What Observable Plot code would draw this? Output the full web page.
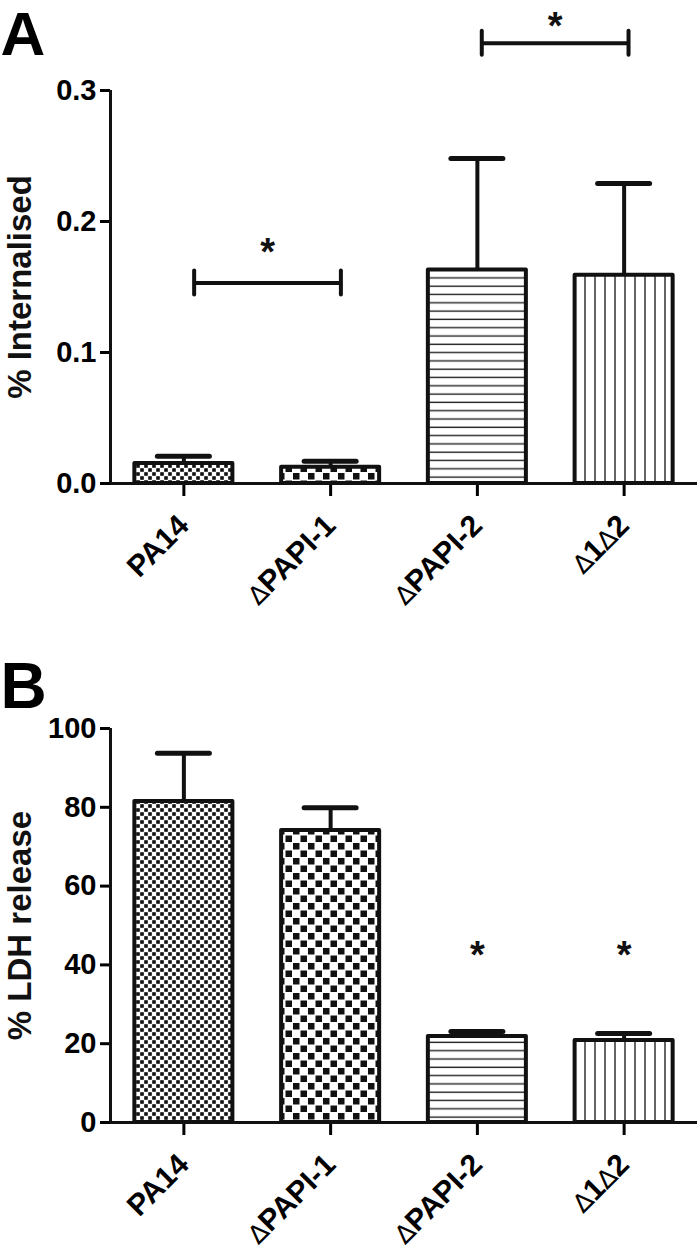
<!DOCTYPE html>
<html>
<head>
<meta charset="utf-8">
<script src="https://cdn.jsdelivr.net/npm/d3@7"></script>
<script src="https://cdn.jsdelivr.net/npm/@observablehq/plot@0.6"></script>
<style>
  html, body { margin: 0; padding: 0; background: white; }
  #chart { width: 700px; position: relative; }
  #chart svg { display: block; }
</style>
</head>
<body>
<div id="chart"></div>
<script>
// ---- data ----
const categories = ["PA14", "ΔPAPI-1", "ΔPAPI-2", "Δ1Δ2"];
const patterns = ["fine", "coarse", "hlines", "vlines"];

// Panel A: % internalised (mean, SEM)
const internalised = [0.0153, 0.0125, 0.163, 0.159];
const internalisedSem = [0.0055, 0.0045, 0.085, 0.070];
const bracketsA = [
  {from: 0.07, to: 1.07, y: 0.153, starY: 0.182},
  {from: 2.03, to: 3.03, y: 0.336, starY: 0.355}
];
const yTicksA = [0, 0.1, 0.2, 0.3];

// Panel B: % LDH release (mean, SEM)
const ldh = [81.5, 74.1, 21.8, 20.8];
const ldhSem = [12.2, 5.8, 1.3, 1.8];
const starsB = [{x: 2, y: 44.4}, {x: 3, y: 44.4}];
const yTicksB = [0, 20, 40, 60, 80, 100];

const FONT = "'Liberation Sans', Arial, Helvetica, sans-serif";
const HALF = 0.334;     // half bar width (in category units)
const CAP = 26;         // half cap width (px)

function defs(prefix) {
  return `<defs>
  <pattern id="${prefix}-fine" patternUnits="userSpaceOnUse" width="8" height="8">
    <rect width="8" height="8" fill="white"/>
    <rect x="0.2" y="0.2" width="3.6" height="3.6" fill="#111"/>
    <rect x="4.2" y="4.2" width="3.6" height="3.6" fill="#111"/>
  </pattern>
  <pattern id="${prefix}-coarse" patternUnits="userSpaceOnUse" width="15" height="15">
    <rect width="15" height="15" fill="white"/>
    <rect x="0.5" y="0.5" width="6.5" height="6.5" fill="#111"/>
    <rect x="8" y="8" width="6.5" height="6.5" fill="#111"/>
  </pattern>
  <pattern id="${prefix}-hlines" patternUnits="userSpaceOnUse" width="10" height="8.3">
    <rect width="10" height="8.3" fill="white"/>
    <line x1="0" x2="10" y1="4" y2="4" stroke="#222" stroke-width="1.4"/>
  </pattern>
  <pattern id="${prefix}-vlines" patternUnits="userSpaceOnUse" width="10" height="10">
    <rect width="10" height="10" fill="white"/>
    <line x1="5" x2="5" y1="0" y2="10" stroke="#222" stroke-width="1.4"/>
  </pattern>
  </defs>`;
}

function panel({prefix, values, sems, yDomain, yTicks, yFormat, yLabel, letter, height, marginTop, marginBottom, labelDx, letterDy, letterSize, extra}) {
  const rows = categories.map((c, i) => ({i, c, value: values[i], sem: sems[i], pat: patterns[i]}));
  const svg = Plot.plot({
    width: 700,
    height,
    marginTop,
    marginBottom,
    marginLeft: 110,
    marginRight: 3,
    style: {fontFamily: FONT, background: "white", color: "black", overflow: "visible"},
    x: {type: "linear", domain: [-0.5, 3.5], axis: null},
    y: {domain: yDomain, axis: null},
    color: {type: "identity"},
    marks: [
      Plot.axisY({ticks: yTicks, tickFormat: yFormat, tickSize: 10, tickPadding: 4,
        fontSize: 29, fontWeight: "bold", strokeWidth: 3, label: null}),
      Plot.axisX({ticks: [0, 1, 2, 3], tickFormat: i => categories[i], tickSize: 13,
        tickRotate: -45, tickPadding: 24, fontSize: 30, fontWeight: "bold", strokeWidth: 3, label: null}),
      Plot.ruleY(rows, {y: d => d.value + d.sem, x1: "i", x2: "i", insetLeft: -CAP, insetRight: -CAP,
        stroke: "#111", strokeWidth: 5, strokeLinecap: "round"}),
      Plot.ruleX(rows, {x: "i", y1: "value", y2: d => d.value + d.sem, stroke: "#111", strokeWidth: 4}),
      Plot.rectY(rows, {x1: d => d.i - HALF, x2: d => d.i + HALF, y1: 0, y2: "value",
        fill: d => `url(#${prefix}-${d.pat})`, stroke: "#111", strokeWidth: 4, strokeLinejoin: "round"}),
      Plot.ruleX([-0.5], {stroke: "#111", strokeWidth: 3}),
      Plot.ruleY([yDomain[0]], {stroke: "#111", strokeWidth: 3}),
      Plot.text([yLabel], {frameAnchor: "left", rotate: -90, dx: labelDx, textAnchor: "middle",
        lineAnchor: "top", fontSize: 33, fontWeight: "bold", fill: "#111"}),
      Plot.text([letter], {frameAnchor: "top-left", dx: -110, dy: letterDy, textAnchor: "start",
        lineAnchor: "top", fontSize: letterSize, fontWeight: "bold", fill: "black"}),
      ...extra
    ]
  });
  svg.insertAdjacentHTML("afterbegin", defs(prefix));
  // draw the Δ glyphs as a lighter outline triangle, as in the original figure
  svg.querySelectorAll("text").forEach(t => {
    if (t.children.length === 0 && t.textContent.includes("Δ")) {
      const parts = t.textContent.split("Δ");
      t.textContent = "";
      parts.forEach((p, k) => {
        if (k > 0) {
          const d = document.createElementNS("http://www.w3.org/2000/svg", "tspan");
          d.setAttribute("font-weight", "normal");
          d.setAttribute("font-family", "'DejaVu Sans', sans-serif");
          d.setAttribute("font-size", "0.85em");
          d.textContent = "∆";
          t.appendChild(d);
        }
        if (p) t.appendChild(document.createTextNode(p));
      });
    }
  });
  return svg;
}

const starMarks = (data) => Plot.text(data, {x: "x", y: "y", text: () => "*", fontSize: 38,
  fontWeight: "bold", textAnchor: "middle", lineAnchor: "middle", dy: 8, fill: "#111"});

const svgA = panel({
  prefix: "A", values: internalised, sems: internalisedSem,
  yDomain: [0, 0.3], yTicks: yTicksA, yFormat: d3.format(".1f"), yLabel: "% Internalised",
  letter: "A", letterSize: 62, height: 640, marginTop: 90, marginBottom: 157, labelDx: -103, letterDy: -80,
  extra: [
    Plot.ruleY(bracketsA, {y: "y", x1: "from", x2: "to", stroke: "#111", strokeWidth: 4}),
    Plot.ruleX(bracketsA, {x: "from", y1: "y", y2: "y", insetTop: -12, insetBottom: -12, stroke: "#111", strokeWidth: 4, strokeLinecap: "round"}),
    Plot.ruleX(bracketsA, {x: "to", y1: "y", y2: "y", insetTop: -12, insetBottom: -12, stroke: "#111", strokeWidth: 4, strokeLinecap: "round"}),
    starMarks(bracketsA.map(b => ({x: (b.from + b.to) / 2, y: b.starY})))
  ]
});

const svgB = panel({
  prefix: "B", values: ldh, sems: ldhSem,
  yDomain: [0, 100], yTicks: yTicksB, yFormat: d3.format("d"), yLabel: "% LDH release",
  letter: "B", letterSize: 64, height: 613, marginTop: 88, marginBottom: 131, labelDx: -103, letterDy: -66,
  extra: [starMarks(starsB)]
});

const chart = document.getElementById("chart");
chart.appendChild(svgA);
chart.appendChild(svgB);
</script>
</body>
</html>
